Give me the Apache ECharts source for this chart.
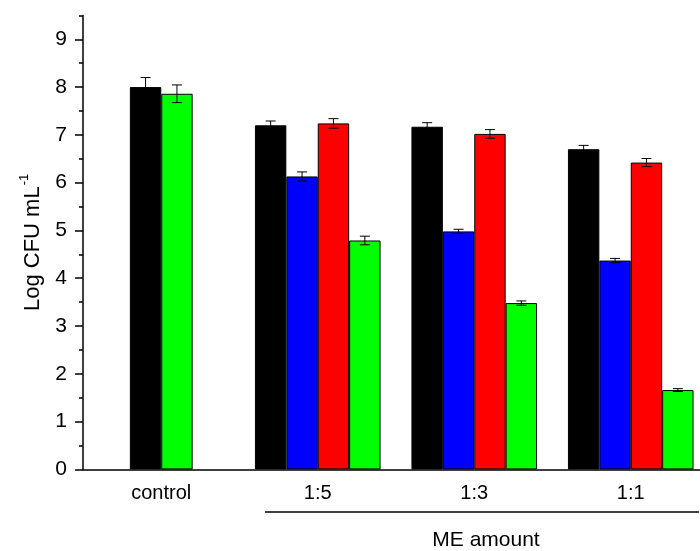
<!DOCTYPE html>
<html>
<head>
<meta charset="utf-8">
<script src="https://cdn.jsdelivr.net/npm/echarts@6/dist/echarts.min.js"></script>
<style>html,body{margin:0;padding:0;background:#fff;}#c{width:700px;height:551px;}</style>
</head>
<body>
<div id="c"></div>
<script>
const categories = ['control', '1:5', '1:3', '1:1'];
const blackVals = [8.00, 7.20, 7.17, 6.70];
const blueVals  = [null, 6.13, 4.98, 4.37];
const redVals   = [null, 7.24, 7.02, 6.42];
const greenVals = [7.86, 4.79, 3.48, 1.66];
const blackErr = [0.20, 0.09, 0.085, 0.08];
const blueErr  = [null, 0.095, 0.045, 0.045];
const redErr   = [null, 0.10, 0.09, 0.085];
const greenErr = [0.185, 0.09, 0.045, 0.03];
const yMajorTicks = [0, 1, 2, 3, 4, 5, 6, 7, 8, 9];
const yMinorTicks = [0.5, 1.5, 2.5, 3.5, 4.5, 5.5, 6.5, 7.5, 8.5, 9.5];
const xTitle = 'ME amount';

const FONT = 'Liberation Sans, Arial, sans-serif';
const COLORS = { black: '#000000', blue: '#0000ff', red: '#ff0000', green: '#00ff00' };
const BAR_W = 31.4;

const slots = [[], [], [], []];
const errData = [];
categories.forEach((c, i) => {
  const twoOnly = blueVals[i] == null && redVals[i] == null;
  if (twoOnly) {
    slots[0].push(null);
    slots[1].push({ value: blackVals[i], itemStyle: { color: COLORS.black } });
    slots[2].push({ value: greenVals[i], itemStyle: { color: COLORS.green } });
    slots[3].push(null);
    errData.push([i, blackVals[i], blackErr[i], 1]);
    errData.push([i, greenVals[i], greenErr[i], 2]);
  } else {
    slots[0].push(blackVals[i]);
    slots[1].push(blueVals[i]);
    slots[2].push(redVals[i]);
    slots[3].push(greenVals[i]);
    errData.push([i, blackVals[i], blackErr[i], 0]);
    errData.push([i, blueVals[i], blueErr[i], 1]);
    errData.push([i, redVals[i], redErr[i], 2]);
    errData.push([i, greenVals[i], greenErr[i], 3]);
  }
});
const slotColors = [COLORS.black, COLORS.blue, COLORS.red, COLORS.green];

const barSeries = slots.map((d, k) => ({
  type: 'bar',
  data: d,
  barWidth: BAR_W,
  barGap: '0%',
  itemStyle: { color: slotColors[k], borderColor: '#000', borderWidth: 1 },
  emphasis: { disabled: true },
  animation: false,
  z: 2
}));

const errSeries = {
  type: 'custom',
  data: errData,
  z: 5,
  animation: false,
  renderItem: function (params, api) {
    const idx = api.value(0), v = api.value(1), e = api.value(2), s = api.value(3);
    const c = api.coord([idx, v]);
    const x = c[0] + (s - 1.5) * BAR_W;
    const yt = api.coord([idx, v + e])[1];
    const yb = api.coord([idx, v - e])[1];
    const hw = 5;
    const st = { stroke: '#000', lineWidth: 1 };
    return {
      type: 'group',
      children: [
        { type: 'line', shape: { x1: x, y1: yt, x2: x, y2: yb }, style: st },
        { type: 'line', shape: { x1: x - hw, y1: yt, x2: x + hw, y2: yt }, style: st },
        { type: 'line', shape: { x1: x - hw, y1: yb, x2: x + hw, y2: yb }, style: st }
      ]
    };
  }
};

const chart = echarts.init(document.getElementById('c'), null, { renderer: 'canvas' });
chart.setOption({
  backgroundColor: '#fff',
  animation: false,
  grid: { left: 83, top: 15.4, width: 626, height: 454, containLabel: false, outerBoundsMode: 'none' },
  xAxis: {
    type: 'category',
    data: categories,
    axisLine: { lineStyle: { color: '#000', width: 1.5 } },
    axisTick: { show: false },
    axisLabel: { color: '#000', fontSize: 20, fontFamily: FONT, margin: 14 },
    splitLine: { show: false }
  },
  yAxis: [{
    type: 'value',
    min: 0, max: 9.5,
    position: 'left',
    name: '{a|Log CFU mL}{b|-1}',
    nameLocation: 'middle',
    nameGap: 37,
    nameRotate: 90,
    nameTextStyle: {
      color: '#000', fontFamily: FONT,
      rich: {
        a: { fontSize: 22, fontFamily: FONT, color: '#000', lineHeight: 26, verticalAlign: 'bottom' },
        b: { fontSize: 13, fontFamily: FONT, color: '#000', lineHeight: 26, verticalAlign: 'top', padding: [0, 0, 0, 1] }
      }
    },
    axisLine: { show: true, lineStyle: { color: '#000', width: 1.5 } },
    axisTick: { show: true, inside: false, length: 8, customValues: yMajorTicks, lineStyle: { color: '#000', width: 1.5 } },
    axisLabel: { color: '#000', fontSize: 21, fontFamily: FONT, margin: 16, customValues: yMajorTicks },
    splitLine: { show: false }
  }, {
    type: 'value',
    min: 0, max: 9.5,
    position: 'left',
    axisLine: { show: false },
    axisTick: { show: true, inside: false, length: 4, customValues: yMinorTicks, lineStyle: { color: '#000', width: 1.5 } },
    axisLabel: { show: false },
    splitLine: { show: false }
  }],
  series: barSeries.concat([errSeries]),
  graphic: [
    { type: 'line', shape: { x1: 265, y1: 512, x2: 699, y2: 512 }, style: { stroke: '#000', lineWidth: 1.5 } },
    { type: 'text', x: 486, y: 540, style: { text: xTitle, font: '21px ' + FONT, fill: '#000', textAlign: 'center', textVerticalAlign: 'middle' } }
  ]
});
</script>
</body>
</html>
